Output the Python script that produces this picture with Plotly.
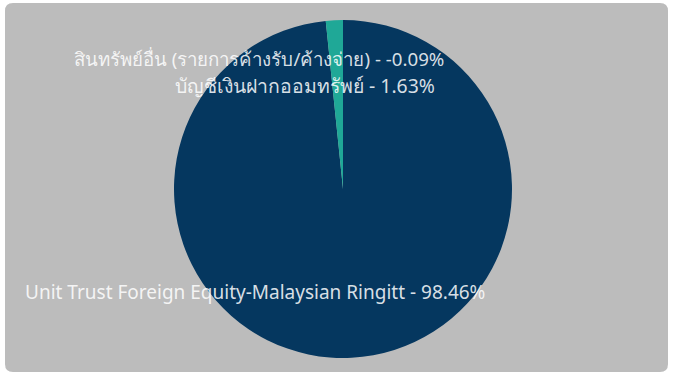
import plotly.graph_objects as go

labels = ["Unit Trust Foreign Equity-Malaysian Ringitt",
          "บัญชีเงินฝากออมทรัพย์",
          "สินทรัพย์อื่น (รายการค้างรับ/ค้างจ่าย)"]
values = [98.46, 1.63, -0.09]
colors = ["#05375f", "#1fa897", "#7f7f7f"]

W, H = 673, 376
pie_vals = [max(v, 0) for v in values]

fig = go.Figure()
fig.add_trace(go.Pie(
    labels=labels, values=pie_vals, sort=False, direction="clockwise", rotation=0,
    marker=dict(colors=colors, line=dict(width=0)),
    textinfo="none", hoverinfo="label+percent", showlegend=False,
    domain=dict(x=[174 / W, 512 / W], y=[1 - 358 / H, 1 - 20 / H]),
))

# label positions (paper coords): right-aligned anchor x, center y, font size
label_pos = [(487, 292, 19), (437, 86, 19.4), (446, 58, 18.7)]
for lab, val, (px, py, fs) in zip(labels, values, label_pos):
    fig.add_annotation(
        text=f"{lab} - {val:.2f}%", x=px / W, y=1 - py / H, xref="paper", yref="paper",
        xanchor="right", yanchor="middle", showarrow=False,
        font=dict(family="Noto Sans, sans-serif", size=fs, color="rgba(255,255,255,0.85)"),
    )

r = 8
x0, x1, y0, y1 = 5 / W, 668 / W, 1 - 372 / H, 1 - 3 / H
rx, ry = r / W, r / H
path = (f"M {x0+rx},{y0} L {x1-rx},{y0} Q {x1},{y0} {x1},{y0+ry} L {x1},{y1-ry} "
        f"Q {x1},{y1} {x1-rx},{y1} L {x0+rx},{y1} Q {x0},{y1} {x0},{y1-ry} "
        f"L {x0},{y0+ry} Q {x0},{y0} {x0+rx},{y0} Z")
fig.add_shape(type="path", path=path, xref="paper", yref="paper",
              fillcolor="#bcbcbc", line=dict(width=0), layer="below")

fig.update_layout(width=W, height=H, margin=dict(l=0, r=0, t=0, b=0),
                  paper_bgcolor="white", plot_bgcolor="white")
fig.write_html("out.html")
